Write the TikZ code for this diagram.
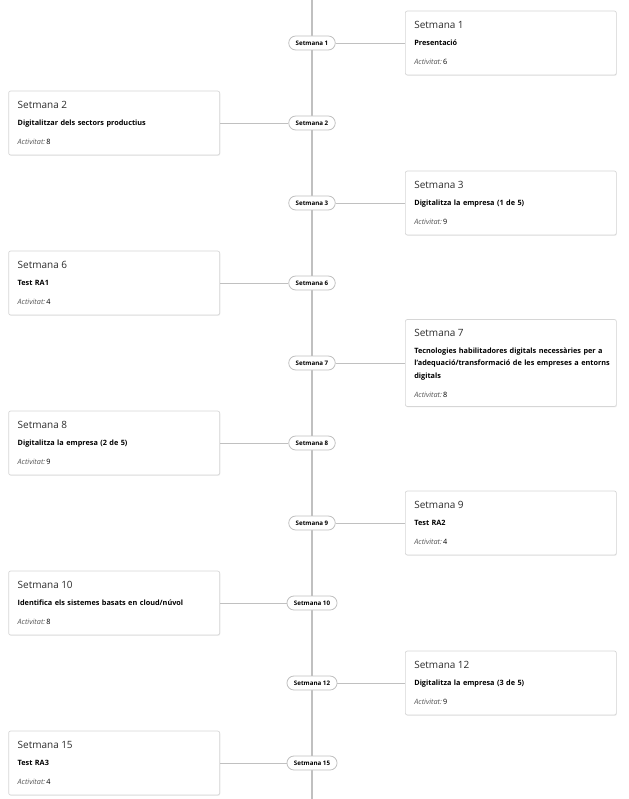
\documentclass[tikz,border=0pt]{standalone}
\usepackage{fontspec}
\setmainfont{Open Sans}
\usetikzlibrary{positioning, shadows}
\definecolor{linegray}{RGB}{192,192,192}
\definecolor{cardgray}{RGB}{214,214,214}
\definecolor{inkdark}{RGB}{45,45,45}
\definecolor{actgray}{RGB}{85,85,85}
\tikzset{
    spine/.style ={draw=linegray, line width=1.4pt},
    pill/.style  ={draw=linegray, line width=0.8pt, fill=white, rounded corners=7pt,
                   minimum height=14pt, inner xsep=7pt, inner ysep=0pt,
                   font=\fontsize{6.2}{7}\selectfont\bfseries},
    card/.style  ={draw=cardgray, line width=0.7pt, fill=white, rounded corners=2pt,
                   text width=193pt, inner xsep=9pt, inner ysep=0pt, minimum height=64pt,
                   align=left, font=\fontsize{7.3}{12.5}\selectfont,
                   drop shadow={opacity=0.12, shadow xshift=0.6pt, shadow yshift=-0.9pt}},
    rcard/.style ={card, anchor=west},
    lcard/.style ={card, anchor=east},
    conn/.style  ={draw=linegray, line width=0.7pt}
}
\newcommand{\wcard}[3]{{\fontsize{10}{12}\selectfont\color{inkdark}#1}\\[4.5pt]%
  \textbf{#2}\\[6.5pt]{\color{actgray}\itshape Activitat:}\,#3}

\begin{document}
\begin{tikzpicture}[x=1pt, y=-1pt]
  \useasboundingbox (0,0) rectangle (628,799);
  \coordinate (top) at (312,0);
  \coordinate (bot) at (312,799);
  \draw[spine] (top) -- (bot);

  % right column
  \node[pill] (p1) at (312,43) {Setmana 1};
  \node[rcard] (c1) at (405,43) {\wcard{Setmana 1}{Presentació}{6}};
  \node[pill] (p3) at (312,203) {Setmana 3};
  \node[rcard] (c3) at (405,203) {\wcard{Setmana 3}{Digitalitza la empresa (1 de 5)}{9}};
  \node[pill] (p7) at (312,363) {Setmana 7};
  \node[rcard, minimum height=87pt] (c7) at (405,363)
       {\wcard{Setmana 7}{\mbox{Tecnologies habilitadores digitals necessàries per a}\\
        \mbox{l'adequació/transformació de les empreses a entorns}\\ digitals}{8}};
  \node[pill] (p9) at (312,523) {Setmana 9};
  \node[rcard] (c9) at (405,523) {\wcard{Setmana 9}{Test RA2}{4}};
  \node[pill] (p12) at (312,683) {Setmana 12};
  \node[rcard] (c12) at (405,683) {\wcard{Setmana 12}{Digitalitza la empresa (3 de 5)}{9}};

  % left column
  \node[pill] (p2) at (312,123) {Setmana 2};
  \node[lcard] (c2) at (220,123) {\wcard{Setmana 2}{Digitalitzar dels sectors productius}{8}};
  \node[pill] (p6) at (312,283) {Setmana 6};
  \node[lcard] (c6) at (220,283) {\wcard{Setmana 6}{Test RA1}{4}};
  \node[pill] (p8) at (312,443) {Setmana 8};
  \node[lcard] (c8) at (220,443) {\wcard{Setmana 8}{Digitalitza la empresa (2 de 5)}{9}};
  \node[pill] (p10) at (312,603) {Setmana 10};
  \node[lcard] (c10) at (220,603) {\wcard{Setmana 10}{Identifica els sistemes basats en cloud/núvol}{8}};
  \node[pill] (p15) at (312,763) {Setmana 15};
  \node[lcard] (c15) at (220,763) {\wcard{Setmana 15}{Test RA3}{4}};

  \draw[conn] (p1) -- (c1);
  \draw[conn] (p3) -- (c3);
  \draw[conn] (p7) -- (c7);
  \draw[conn] (p9) -- (c9);
  \draw[conn] (p12) -- (c12);
  \draw[conn] (c2) -- (p2);
  \draw[conn] (c6) -- (p6);
  \draw[conn] (c8) -- (p8);
  \draw[conn] (c10) -- (p10);
  \draw[conn] (c15) -- (p15);
\end{tikzpicture}
\end{document}
